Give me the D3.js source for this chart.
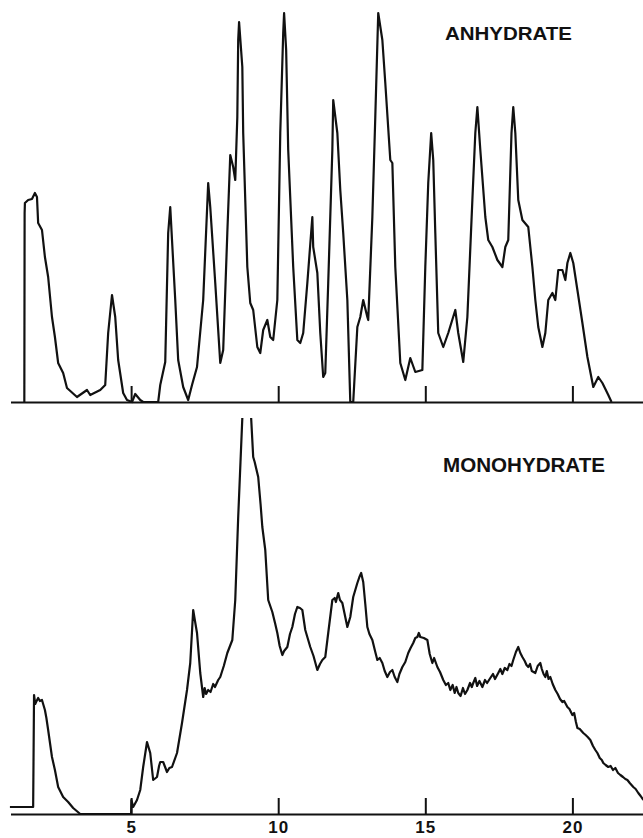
<!DOCTYPE html>
<html>
<head>
<meta charset="utf-8">
<script src="https://cdn.jsdelivr.net/npm/d3@7"></script>
<style>
  body { margin: 0; background: #fff; }
  svg { display: block; }
  .trace { fill: none; stroke: #111; stroke-width: 2.2; stroke-linejoin: round; }
  .axis path, .axis line { stroke: #111; stroke-width: 2; }
  .axis text { font-family: "Liberation Sans", Arial, sans-serif; font-weight: bold; font-size: 17px; fill: #111; letter-spacing: 1px; }
  .label { font-family: "Liberation Sans", Arial, sans-serif; font-weight: bold; fill: #111; }
</style>
</head>
<body>
<div class="chart"></div>
<script>
// 2-theta (deg) vs counts
var anhydrate = [
  [1.37,0],[1.38,189],[1.39,199],[1.50,202],[1.63,203],[1.73,209],[1.80,205],[1.84,179],[1.97,172],[2.07,145],
  [2.18,125],[2.31,85],[2.41,65],[2.52,39],[2.69,29],[2.82,14],[3.16,5],[3.50,12],[3.61,7],[3.95,12],
  [4.12,17],[4.22,69],[4.35,107],[4.46,85],[4.56,42],[4.73,9],[4.86,2],[5.03,0],[5.14,8],[5.31,2],
  [5.41,0],[5.92,0],[5.99,17],[6.16,40],[6.26,169],[6.33,195],[6.39,162],[6.50,102],[6.60,42],[6.77,15],
  [6.94,2],[7.07,17],[7.24,35],[7.45,102],[7.62,219],[7.69,195],[7.86,119],[8.03,39],[8.13,52],[8.27,169],
  [8.37,247],[8.47,235],[8.54,222],[8.61,285],[8.64,362],[8.67,380],[8.78,335],[8.81,269],[8.95,135],[9.05,99],
  [9.15,92],[9.29,55],[9.39,49],[9.49,72],[9.63,82],[9.73,65],[9.83,62],[9.97,102],[10.07,269],[10.17,369],
  [10.20,389],[10.27,352],[10.34,252],[10.51,135],[10.65,62],[10.75,59],[10.85,69],[10.99,119],[11.16,185],[11.19,155],
  [11.33,129],[11.43,69],[11.53,25],[11.60,29],[11.70,119],[11.84,252],[11.87,302],[12.01,269],[12.11,212],[12.21,169],
  [12.35,102],[12.45,0],[12.55,0],[12.69,75],[12.79,85],[12.89,102],[13.03,85],[13.06,82],[13.20,185],[13.30,285],
  [13.40,389],[13.54,362],[13.64,319],[13.81,242],[13.88,239],[13.98,135],[14.15,39],[14.32,22],[14.49,44],[14.66,30],
  [14.90,32],[15.00,135],[15.10,219],[15.20,269],[15.27,242],[15.34,169],[15.44,69],[15.61,55],[15.78,69],[16.02,92],
  [16.12,69],[16.29,40],[16.43,85],[16.60,202],[16.70,269],[16.77,295],[16.87,252],[17.04,185],[17.14,162],[17.28,155],
  [17.45,142],[17.62,135],[17.72,155],[17.82,162],[17.93,269],[17.99,295],[18.06,269],[18.16,202],[18.30,182],[18.50,175],
  [18.64,135],[18.74,102],[18.84,75],[18.98,55],[19.08,69],[19.18,102],[19.32,109],[19.42,102],[19.52,132],[19.66,132],
  [19.76,122],[19.83,139],[19.93,149],[20.03,139],[20.17,112],[20.34,79],[20.51,45],[20.71,15],[20.88,25],[21.02,19],
  [21.22,7],[21.33,0]
];

var monohydrate = [
  [0.88,7],[1.67,7],[1.70,119],[1.74,110],[1.77,112],[1.84,116],[1.90,113],[1.97,114],[2.07,104],[2.12,96],
  [2.18,84],[2.31,57],[2.41,44],[2.52,27],[2.69,17],[2.86,12],[3.03,6],[3.27,0],[5.00,0],[5.01,14],
  [5.07,7],[5.20,14],[5.31,24],[5.41,47],[5.54,72],[5.60,66],[5.65,61],[5.75,34],[5.88,37],[5.95,48],
  [5.99,52],[6.09,52],[6.22,42],[6.30,46],[6.39,47],[6.56,61],[6.73,91],[6.90,124],[7.01,151],[7.11,204],
  [7.16,195],[7.24,181],[7.35,141],[7.45,117],[7.50,126],[7.55,120],[7.62,124],[7.70,122],[7.79,130],[7.85,127],
  [7.96,134],[8.03,137],[8.15,148],[8.27,161],[8.44,174],[8.54,214],[8.64,297],[8.78,396],[8.91,514],[8.97,520],
  [9.03,470],[9.08,396],[9.15,357],[9.20,352],[9.32,337],[9.40,310],[9.46,287],[9.56,264],[9.66,214],[9.73,208],
  [9.80,202],[9.90,190],[9.97,181],[10.05,168],[10.14,159],[10.20,163],[10.31,167],[10.40,180],[10.48,187],[10.57,200],
  [10.65,207],[10.74,206],[10.82,204],[10.92,184],[11.00,176],[11.09,167],[11.20,158],[11.33,144],[11.42,150],[11.50,154],
  [11.60,157],[11.70,181],[11.84,214],[11.92,216],[11.96,212],[12.04,221],[12.10,214],[12.18,211],[12.35,187],[12.45,197],
  [12.55,217],[12.69,231],[12.76,237],[12.82,241],[12.89,232],[12.96,210],[13.03,187],[13.10,180],[13.20,174],[13.30,162],
  [13.37,154],[13.45,156],[13.54,151],[13.62,143],[13.71,137],[13.80,142],[13.88,144],[13.96,137],[14.05,132],[14.12,140],
  [14.22,147],[14.32,152],[14.42,161],[14.50,166],[14.59,171],[14.66,176],[14.73,177],[14.78,181],[14.83,177],[14.95,176],
  [15.07,174],[15.15,160],[15.24,151],[15.30,156],[15.41,147],[15.50,142],[15.61,134],[15.70,129],[15.78,131],[15.85,124],
  [15.93,129],[16.00,121],[16.06,127],[16.12,121],[16.20,118],[16.28,126],[16.35,120],[16.43,124],[16.52,131],[16.58,127],
  [16.63,131],[16.70,136],[16.76,128],[16.84,133],[16.94,127],[17.03,134],[17.10,131],[17.21,136],[17.30,140],[17.37,135],
  [17.48,141],[17.55,145],[17.62,140],[17.70,146],[17.79,144],[17.86,150],[17.93,148],[17.99,154],[18.08,162],[18.16,167],
  [18.23,161],[18.30,157],[18.38,153],[18.44,149],[18.50,147],[18.56,150],[18.62,143],[18.74,141],[18.82,148],[18.91,151],
  [18.96,145],[19.02,140],[19.08,137],[19.13,143],[19.19,135],[19.25,137],[19.33,130],[19.42,124],[19.50,120],[19.58,115],
  [19.66,112],[19.72,113],[19.83,107],[19.90,105],[20.00,99],[20.06,101],[20.12,92],[20.17,86],[20.25,85],[20.37,81],
  [20.45,79],[20.52,77],[20.61,74],[20.70,68],[20.78,64],[20.85,61],[20.93,56],[21.00,54],[21.05,51],[21.13,49],
  [21.22,47],[21.30,48],[21.38,44],[21.46,46],[21.55,41],[21.63,39],[21.72,37],[21.80,35],[21.87,34],[21.95,31],
  [22.07,27],[22.15,25],[22.24,21],[22.32,18],[22.41,14]
];

var tickValues = [5, 10, 15, 20];
var tickLabels = ["5", "10", "15", "20"];
var topTitle = "ANHYDRATE";
var bottomTitle = "MONOHYDRATE";

var w = 643, h = 838;

var x_scale = d3.scaleLinear().domain([0.9, 22.4]).range([10.5, 643]);
var y_top = d3.scaleLinear().domain([0, 390]).range([402, 12]);
var y_bot = d3.scaleLinear().domain([0, 400]).range([814, 414]);

var svg = d3.select(".chart").append("svg")
            .attr("width", w)
            .attr("height", h);

svg.append("defs").append("clipPath")
   .attr("id", "botclip")
   .append("rect")
   .attr("x", 0).attr("y", 418)
   .attr("width", w).attr("height", h - 418);

var lineTop = d3.line()
        .x(function(d) { return x_scale(d[0]); })
        .y(function(d) { return y_top(d[1]); });

var lineBot = d3.line()
        .x(function(d) { return x_scale(d[0]); })
        .y(function(d) { return y_bot(d[1]); });

// top panel baseline with small ticks, no labels
svg.append("g")
   .attr("class", "axis")
   .attr("transform", "translate(0," + y_top(0) + ")")
   .call(d3.axisTop(x_scale).tickValues(tickValues).tickSizeInner(16).tickSizeOuter(0).tickFormat(""));

// bottom panel axis, ticks point up, labels below
svg.append("g")
   .attr("class", "axis")
   .attr("transform", "translate(0," + y_bot(0) + ")")
   .call(d3.axisBottom(x_scale).tickValues(tickValues).tickSizeInner(-16).tickSizeOuter(0).tickPadding(7)
          .tickFormat(function(d, i) { return tickLabels[i]; }));

svg.append("path")
   .attr("class", "trace")
   .attr("d", lineTop(anhydrate));

svg.append("path")
   .attr("class", "trace")
   .attr("clip-path", "url(#botclip)")
   .attr("d", lineBot(monohydrate));

svg.append("text")
   .attr("class", "label")
   .attr("x", 445).attr("y", 40)
   .attr("font-size", 18)
   .attr("textLength", 127)
   .attr("lengthAdjust", "spacingAndGlyphs")
   .text(topTitle);

svg.append("text")
   .attr("class", "label")
   .attr("x", 443).attr("y", 472)
   .attr("font-size", 20)
   .attr("textLength", 162)
   .attr("lengthAdjust", "spacingAndGlyphs")
   .text(bottomTitle);
</script>
</body>
</html>
